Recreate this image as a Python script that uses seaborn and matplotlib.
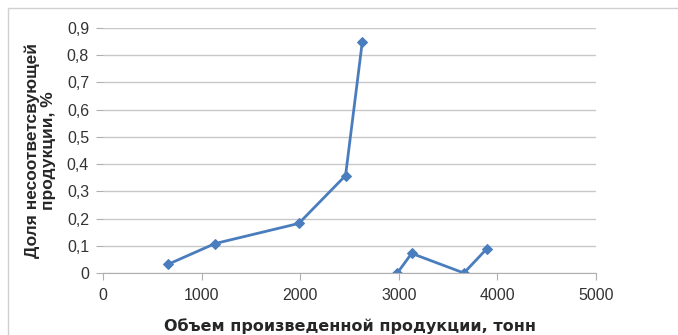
import seaborn as sns
import numpy as np
import matplotlib.pyplot as plt
import pandas as pd
from matplotlib.patches import Rectangle

# two separate runs of data (line breaks between them)
x1 = [660, 1135, 1985, 2460, 2630]
y1 = [0.032, 0.108, 0.182, 0.358, 0.85]
x2 = [2985, 3130, 3660, 3890]
y2 = [0.0, 0.072, 0.0, 0.088]

yticks = [0, 0.1, 0.2, 0.3, 0.4, 0.5, 0.6, 0.7, 0.8, 0.9]
ylabels = ['0', '0,1', '0,2', '0,3', '0,4', '0,5', '0,6', '0,7', '0,8', '0,9']
xticks = [0, 1000, 2000, 3000, 4000, 5000]

df = pd.concat([
    pd.DataFrame({'x': x1, 'y': y1, 'grp': 'a'}),
    pd.DataFrame({'x': x2, 'y': y2, 'grp': 'b'}),
])

sns.set_style('white')
plt.rcParams['font.family'] = ['Liberation Sans', 'DejaVu Sans']

f = plt.figure(figsize=(6.78, 3.35), dpi=100)
ax = f.add_axes([103/678, 1 - 273/335, (596-103)/678, (273-28)/335])

blue = '#4a7dbd'
sns.lineplot(data=df, x='x', y='y', units='grp', estimator=None, sort=False,
             color=blue, marker='D', markersize=5, markeredgecolor=blue,
             linewidth=2, ax=ax)

ax.set_xlim(0, 5000)
ax.set_ylim(0, 0.9)
ax.set_yticks(yticks)
ax.set_yticklabels(ylabels)
ax.set_xticks(xticks)
ax.yaxis.grid(True, color='#c8c8c8', linewidth=1)
ax.set_axisbelow(True)
for s in ['top', 'right', 'left']:
    ax.spines[s].set_visible(False)
ax.spines['bottom'].set_color('#b0b0b0')
ax.tick_params(axis='both', direction='out', length=5, color='#b0b0b0',
               labelsize=11.5, labelcolor='#333333', bottom=True, left=True)
ax.tick_params(axis='x', pad=6)
ax.tick_params(axis='y', pad=5)

ax.set_xlabel('Объем произведенной продукции, тонн', fontsize=11.5,
              fontweight='bold', family=['DejaVu Sans'])
ax.set_ylabel('Доля несоответсвующей\nпродукции, %', fontsize=12.5,
              fontweight='bold', linespacing=1.1)
ax.xaxis.set_label_coords(0.5, -0.185)
ax.yaxis.set_label_coords(-0.095, 0.5)

# outer chart border like the original screenshot
f.patches.append(Rectangle((8/678, -0.1), 1.2, 1 - 8/335 + 0.1,
                           transform=f.transFigure, fill=False,
                           edgecolor='#d0d0d0', linewidth=1))

plt.savefig('out.png', dpi=100)
